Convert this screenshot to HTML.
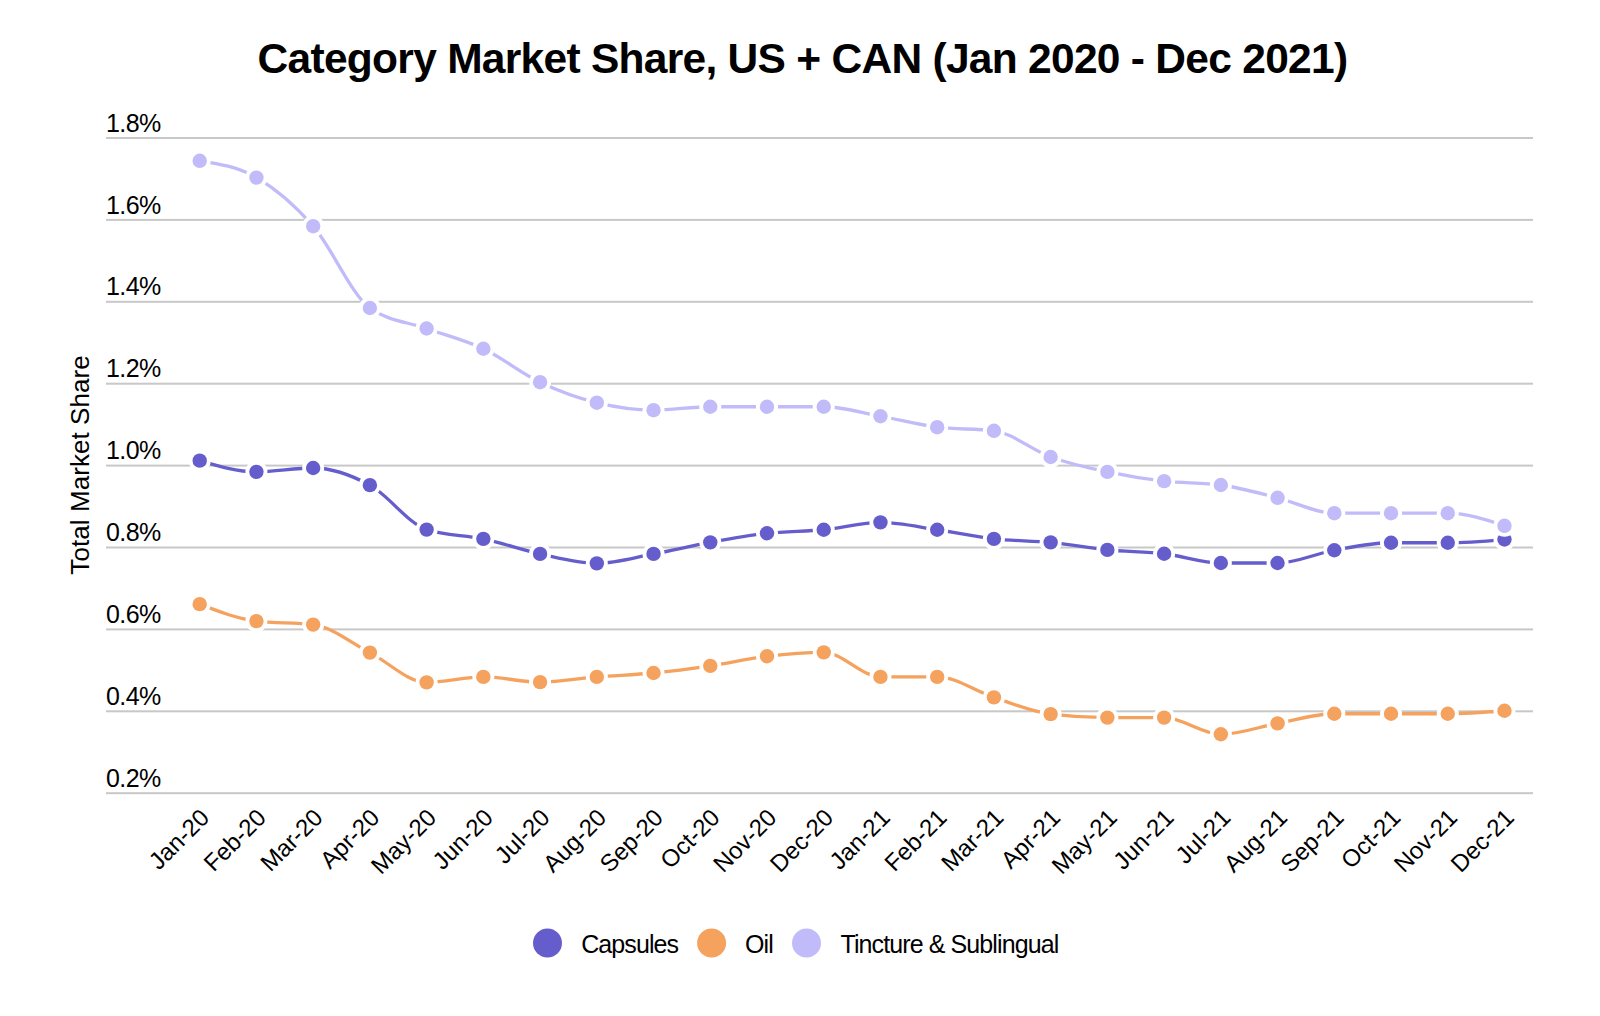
<!DOCTYPE html>
<html><head><meta charset="utf-8"><title>Category Market Share</title>
<style>html,body{margin:0;padding:0;background:#fff;width:1600px;height:1016px;overflow:hidden}svg{display:block;font-family:"Liberation Sans",sans-serif}</style>
</head><body>
<svg width="1600" height="1016" viewBox="0 0 1600 1016"><rect width="1600" height="1016" fill="#fff"/><text x="802.5" y="73.2" text-anchor="middle" font-family="Liberation Sans" font-weight="bold" font-size="42.5" letter-spacing="-0.72" fill="#000">Category Market Share, US + CAN (Jan 2020 - Dec 2021)</text><rect x="106" y="137.00" width="1427" height="2" fill="#c8c8c8"/><text x="106" y="131.60" font-family="Liberation Sans" font-size="25" letter-spacing="-0.6" fill="#000">1.8%</text><rect x="106" y="218.90" width="1427" height="2" fill="#c8c8c8"/><text x="106" y="213.50" font-family="Liberation Sans" font-size="25" letter-spacing="-0.6" fill="#000">1.6%</text><rect x="106" y="300.80" width="1427" height="2" fill="#c8c8c8"/><text x="106" y="295.40" font-family="Liberation Sans" font-size="25" letter-spacing="-0.6" fill="#000">1.4%</text><rect x="106" y="382.70" width="1427" height="2" fill="#c8c8c8"/><text x="106" y="377.30" font-family="Liberation Sans" font-size="25" letter-spacing="-0.6" fill="#000">1.2%</text><rect x="106" y="464.60" width="1427" height="2" fill="#c8c8c8"/><text x="106" y="459.20" font-family="Liberation Sans" font-size="25" letter-spacing="-0.6" fill="#000">1.0%</text><rect x="106" y="546.50" width="1427" height="2" fill="#c8c8c8"/><text x="106" y="541.10" font-family="Liberation Sans" font-size="25" letter-spacing="-0.6" fill="#000">0.8%</text><rect x="106" y="628.40" width="1427" height="2" fill="#c8c8c8"/><text x="106" y="623.00" font-family="Liberation Sans" font-size="25" letter-spacing="-0.6" fill="#000">0.6%</text><rect x="106" y="710.30" width="1427" height="2" fill="#c8c8c8"/><text x="106" y="704.90" font-family="Liberation Sans" font-size="25" letter-spacing="-0.6" fill="#000">0.4%</text><rect x="106" y="792.20" width="1427" height="2" fill="#c8c8c8"/><text x="106" y="786.80" font-family="Liberation Sans" font-size="25" letter-spacing="-0.6" fill="#000">0.2%</text><text transform="translate(89.1,464.9) rotate(-90)" text-anchor="middle" font-family="Liberation Sans" font-size="26" letter-spacing="0.07" fill="#000">Total Market Share</text><text transform="translate(210.70,819) rotate(-45)" text-anchor="end" font-family="Liberation Sans" font-size="24" fill="#000">Jan-20</text><text transform="translate(267.43,819) rotate(-45)" text-anchor="end" font-family="Liberation Sans" font-size="24" fill="#000">Feb-20</text><text transform="translate(324.16,819) rotate(-45)" text-anchor="end" font-family="Liberation Sans" font-size="24" fill="#000">Mar-20</text><text transform="translate(380.89,819) rotate(-45)" text-anchor="end" font-family="Liberation Sans" font-size="24" fill="#000">Apr-20</text><text transform="translate(437.62,819) rotate(-45)" text-anchor="end" font-family="Liberation Sans" font-size="24" fill="#000">May-20</text><text transform="translate(494.35,819) rotate(-45)" text-anchor="end" font-family="Liberation Sans" font-size="24" fill="#000">Jun-20</text><text transform="translate(551.08,819) rotate(-45)" text-anchor="end" font-family="Liberation Sans" font-size="24" fill="#000">Jul-20</text><text transform="translate(607.81,819) rotate(-45)" text-anchor="end" font-family="Liberation Sans" font-size="24" fill="#000">Aug-20</text><text transform="translate(664.54,819) rotate(-45)" text-anchor="end" font-family="Liberation Sans" font-size="24" fill="#000">Sep-20</text><text transform="translate(721.27,819) rotate(-45)" text-anchor="end" font-family="Liberation Sans" font-size="24" fill="#000">Oct-20</text><text transform="translate(778.00,819) rotate(-45)" text-anchor="end" font-family="Liberation Sans" font-size="24" fill="#000">Nov-20</text><text transform="translate(834.73,819) rotate(-45)" text-anchor="end" font-family="Liberation Sans" font-size="24" fill="#000">Dec-20</text><text transform="translate(891.46,819) rotate(-45)" text-anchor="end" font-family="Liberation Sans" font-size="24" fill="#000">Jan-21</text><text transform="translate(948.19,819) rotate(-45)" text-anchor="end" font-family="Liberation Sans" font-size="24" fill="#000">Feb-21</text><text transform="translate(1004.92,819) rotate(-45)" text-anchor="end" font-family="Liberation Sans" font-size="24" fill="#000">Mar-21</text><text transform="translate(1061.65,819) rotate(-45)" text-anchor="end" font-family="Liberation Sans" font-size="24" fill="#000">Apr-21</text><text transform="translate(1118.38,819) rotate(-45)" text-anchor="end" font-family="Liberation Sans" font-size="24" fill="#000">May-21</text><text transform="translate(1175.11,819) rotate(-45)" text-anchor="end" font-family="Liberation Sans" font-size="24" fill="#000">Jun-21</text><text transform="translate(1231.84,819) rotate(-45)" text-anchor="end" font-family="Liberation Sans" font-size="24" fill="#000">Jul-21</text><text transform="translate(1288.57,819) rotate(-45)" text-anchor="end" font-family="Liberation Sans" font-size="24" fill="#000">Aug-21</text><text transform="translate(1345.30,819) rotate(-45)" text-anchor="end" font-family="Liberation Sans" font-size="24" fill="#000">Sep-21</text><text transform="translate(1402.03,819) rotate(-45)" text-anchor="end" font-family="Liberation Sans" font-size="24" fill="#000">Oct-21</text><text transform="translate(1458.76,819) rotate(-45)" text-anchor="end" font-family="Liberation Sans" font-size="24" fill="#000">Nov-21</text><text transform="translate(1515.49,819) rotate(-45)" text-anchor="end" font-family="Liberation Sans" font-size="24" fill="#000">Dec-21</text><path d="M199.70,460.65 C218.61,466.25 237.52,471.85 256.43,471.85 C275.34,471.85 294.25,468.00 313.16,468.00 C332.07,468.00 350.98,474.88 369.89,485.15 C388.80,495.42 407.71,523.43 426.62,529.60 C445.53,535.77 464.44,534.80 483.35,538.85 C502.26,542.90 521.17,549.82 540.08,553.90 C558.99,557.98 577.90,563.35 596.81,563.35 C615.72,563.35 634.63,557.40 653.54,553.90 C672.45,550.40 691.36,545.79 710.27,542.35 C729.18,538.91 748.09,535.35 767.00,533.25 C785.91,531.15 804.82,531.56 823.73,529.75 C842.64,527.94 861.55,522.40 880.46,522.40 C899.37,522.40 918.28,527.01 937.19,529.75 C956.10,532.49 975.01,536.74 993.92,538.85 C1012.83,540.96 1031.74,540.56 1050.65,542.40 C1069.56,544.24 1088.47,548.01 1107.38,549.90 C1126.29,551.79 1145.20,551.57 1164.11,553.75 C1183.02,555.93 1201.93,563.00 1220.84,563.00 C1239.75,563.00 1258.66,563.00 1277.57,563.00 C1296.48,563.00 1315.39,553.62 1334.30,550.25 C1353.21,546.88 1372.12,542.75 1391.03,542.75 C1409.94,542.75 1428.85,542.75 1447.76,542.75 C1466.67,542.75 1485.58,541.12 1504.49,539.50" fill="none" stroke="#665dcc" stroke-width="3.3" stroke-linecap="butt"/>
<circle cx="199.70" cy="460.65" r="11" fill="#fff"/><circle cx="199.70" cy="460.65" r="7.2" fill="#665dcc"/><circle cx="256.43" cy="471.85" r="11" fill="#fff"/><circle cx="256.43" cy="471.85" r="7.2" fill="#665dcc"/><circle cx="313.16" cy="468.00" r="11" fill="#fff"/><circle cx="313.16" cy="468.00" r="7.2" fill="#665dcc"/><circle cx="369.89" cy="485.15" r="11" fill="#fff"/><circle cx="369.89" cy="485.15" r="7.2" fill="#665dcc"/><circle cx="426.62" cy="529.60" r="11" fill="#fff"/><circle cx="426.62" cy="529.60" r="7.2" fill="#665dcc"/><circle cx="483.35" cy="538.85" r="11" fill="#fff"/><circle cx="483.35" cy="538.85" r="7.2" fill="#665dcc"/><circle cx="540.08" cy="553.90" r="11" fill="#fff"/><circle cx="540.08" cy="553.90" r="7.2" fill="#665dcc"/><circle cx="596.81" cy="563.35" r="11" fill="#fff"/><circle cx="596.81" cy="563.35" r="7.2" fill="#665dcc"/><circle cx="653.54" cy="553.90" r="11" fill="#fff"/><circle cx="653.54" cy="553.90" r="7.2" fill="#665dcc"/><circle cx="710.27" cy="542.35" r="11" fill="#fff"/><circle cx="710.27" cy="542.35" r="7.2" fill="#665dcc"/><circle cx="767.00" cy="533.25" r="11" fill="#fff"/><circle cx="767.00" cy="533.25" r="7.2" fill="#665dcc"/><circle cx="823.73" cy="529.75" r="11" fill="#fff"/><circle cx="823.73" cy="529.75" r="7.2" fill="#665dcc"/><circle cx="880.46" cy="522.40" r="11" fill="#fff"/><circle cx="880.46" cy="522.40" r="7.2" fill="#665dcc"/><circle cx="937.19" cy="529.75" r="11" fill="#fff"/><circle cx="937.19" cy="529.75" r="7.2" fill="#665dcc"/><circle cx="993.92" cy="538.85" r="11" fill="#fff"/><circle cx="993.92" cy="538.85" r="7.2" fill="#665dcc"/><circle cx="1050.65" cy="542.40" r="11" fill="#fff"/><circle cx="1050.65" cy="542.40" r="7.2" fill="#665dcc"/><circle cx="1107.38" cy="549.90" r="11" fill="#fff"/><circle cx="1107.38" cy="549.90" r="7.2" fill="#665dcc"/><circle cx="1164.11" cy="553.75" r="11" fill="#fff"/><circle cx="1164.11" cy="553.75" r="7.2" fill="#665dcc"/><circle cx="1220.84" cy="563.00" r="11" fill="#fff"/><circle cx="1220.84" cy="563.00" r="7.2" fill="#665dcc"/><circle cx="1277.57" cy="563.00" r="11" fill="#fff"/><circle cx="1277.57" cy="563.00" r="7.2" fill="#665dcc"/><circle cx="1334.30" cy="550.25" r="11" fill="#fff"/><circle cx="1334.30" cy="550.25" r="7.2" fill="#665dcc"/><circle cx="1391.03" cy="542.75" r="11" fill="#fff"/><circle cx="1391.03" cy="542.75" r="7.2" fill="#665dcc"/><circle cx="1447.76" cy="542.75" r="11" fill="#fff"/><circle cx="1447.76" cy="542.75" r="7.2" fill="#665dcc"/><circle cx="1504.49" cy="539.50" r="11" fill="#fff"/><circle cx="1504.49" cy="539.50" r="7.2" fill="#665dcc"/>
<path d="M199.70,604.15 C218.61,611.46 237.52,618.77 256.43,621.10 C275.34,623.43 294.25,622.27 313.16,624.60 C332.07,626.93 350.98,642.97 369.89,652.60 C388.80,662.23 407.71,682.40 426.62,682.40 C445.53,682.40 464.44,676.90 483.35,676.90 C502.26,676.90 521.17,682.10 540.08,682.10 C558.99,682.10 577.90,678.42 596.81,676.90 C615.72,675.38 634.63,674.84 653.54,673.00 C672.45,671.16 691.36,668.64 710.27,665.85 C729.18,663.06 748.09,658.49 767.00,656.25 C785.91,654.01 804.82,652.40 823.73,652.40 C842.64,652.40 861.55,676.90 880.46,676.90 C899.37,676.90 918.28,676.90 937.19,676.90 C956.10,676.90 975.01,691.20 993.92,697.40 C1012.83,703.60 1031.74,711.77 1050.65,714.10 C1069.56,716.43 1088.47,717.60 1107.38,717.60 C1126.29,717.60 1145.20,717.60 1164.11,717.60 C1183.02,717.60 1201.93,734.25 1220.84,734.25 C1239.75,734.25 1258.66,726.82 1277.57,723.40 C1296.48,719.98 1315.39,713.75 1334.30,713.75 C1353.21,713.75 1372.12,713.75 1391.03,713.75 C1409.94,713.75 1428.85,713.75 1447.76,713.75 C1466.67,713.75 1485.58,712.25 1504.49,710.75" fill="none" stroke="#f4a25e" stroke-width="3.3" stroke-linecap="butt"/>
<circle cx="199.70" cy="604.15" r="11" fill="#fff"/><circle cx="199.70" cy="604.15" r="7.2" fill="#f4a25e"/><circle cx="256.43" cy="621.10" r="11" fill="#fff"/><circle cx="256.43" cy="621.10" r="7.2" fill="#f4a25e"/><circle cx="313.16" cy="624.60" r="11" fill="#fff"/><circle cx="313.16" cy="624.60" r="7.2" fill="#f4a25e"/><circle cx="369.89" cy="652.60" r="11" fill="#fff"/><circle cx="369.89" cy="652.60" r="7.2" fill="#f4a25e"/><circle cx="426.62" cy="682.40" r="11" fill="#fff"/><circle cx="426.62" cy="682.40" r="7.2" fill="#f4a25e"/><circle cx="483.35" cy="676.90" r="11" fill="#fff"/><circle cx="483.35" cy="676.90" r="7.2" fill="#f4a25e"/><circle cx="540.08" cy="682.10" r="11" fill="#fff"/><circle cx="540.08" cy="682.10" r="7.2" fill="#f4a25e"/><circle cx="596.81" cy="676.90" r="11" fill="#fff"/><circle cx="596.81" cy="676.90" r="7.2" fill="#f4a25e"/><circle cx="653.54" cy="673.00" r="11" fill="#fff"/><circle cx="653.54" cy="673.00" r="7.2" fill="#f4a25e"/><circle cx="710.27" cy="665.85" r="11" fill="#fff"/><circle cx="710.27" cy="665.85" r="7.2" fill="#f4a25e"/><circle cx="767.00" cy="656.25" r="11" fill="#fff"/><circle cx="767.00" cy="656.25" r="7.2" fill="#f4a25e"/><circle cx="823.73" cy="652.40" r="11" fill="#fff"/><circle cx="823.73" cy="652.40" r="7.2" fill="#f4a25e"/><circle cx="880.46" cy="676.90" r="11" fill="#fff"/><circle cx="880.46" cy="676.90" r="7.2" fill="#f4a25e"/><circle cx="937.19" cy="676.90" r="11" fill="#fff"/><circle cx="937.19" cy="676.90" r="7.2" fill="#f4a25e"/><circle cx="993.92" cy="697.40" r="11" fill="#fff"/><circle cx="993.92" cy="697.40" r="7.2" fill="#f4a25e"/><circle cx="1050.65" cy="714.10" r="11" fill="#fff"/><circle cx="1050.65" cy="714.10" r="7.2" fill="#f4a25e"/><circle cx="1107.38" cy="717.60" r="11" fill="#fff"/><circle cx="1107.38" cy="717.60" r="7.2" fill="#f4a25e"/><circle cx="1164.11" cy="717.60" r="11" fill="#fff"/><circle cx="1164.11" cy="717.60" r="7.2" fill="#f4a25e"/><circle cx="1220.84" cy="734.25" r="11" fill="#fff"/><circle cx="1220.84" cy="734.25" r="7.2" fill="#f4a25e"/><circle cx="1277.57" cy="723.40" r="11" fill="#fff"/><circle cx="1277.57" cy="723.40" r="7.2" fill="#f4a25e"/><circle cx="1334.30" cy="713.75" r="11" fill="#fff"/><circle cx="1334.30" cy="713.75" r="7.2" fill="#f4a25e"/><circle cx="1391.03" cy="713.75" r="11" fill="#fff"/><circle cx="1391.03" cy="713.75" r="7.2" fill="#f4a25e"/><circle cx="1447.76" cy="713.75" r="11" fill="#fff"/><circle cx="1447.76" cy="713.75" r="7.2" fill="#f4a25e"/><circle cx="1504.49" cy="710.75" r="11" fill="#fff"/><circle cx="1504.49" cy="710.75" r="7.2" fill="#f4a25e"/>
<path d="M199.70,160.80 C218.61,163.75 237.52,166.70 256.43,177.60 C275.34,188.50 294.25,204.47 313.16,226.20 C332.07,247.93 350.98,294.33 369.89,308.00 C388.80,321.67 407.71,321.71 426.62,328.50 C445.53,335.29 464.44,339.80 483.35,348.75 C502.26,357.70 521.17,373.21 540.08,382.20 C558.99,391.19 577.90,398.03 596.81,402.70 C615.72,407.37 634.63,410.20 653.54,410.20 C672.45,410.20 691.36,406.75 710.27,406.75 C729.18,406.75 748.09,406.75 767.00,406.75 C785.91,406.75 804.82,406.75 823.73,406.75 C842.64,406.75 861.55,412.84 880.46,416.25 C899.37,419.66 918.28,424.80 937.19,427.20 C956.10,429.60 975.01,428.40 993.92,430.80 C1012.83,433.20 1031.74,450.15 1050.65,457.00 C1069.56,463.85 1088.47,467.88 1107.38,471.90 C1126.29,475.92 1145.20,478.97 1164.11,481.15 C1183.02,483.33 1201.93,482.43 1220.84,485.00 C1239.75,487.57 1258.66,493.10 1277.57,497.80 C1296.48,502.50 1315.39,513.20 1334.30,513.20 C1353.21,513.20 1372.12,513.20 1391.03,513.20 C1409.94,513.20 1428.85,513.20 1447.76,513.20 C1466.67,513.20 1485.58,519.50 1504.49,525.80" fill="none" stroke="#c1bcf9" stroke-width="3.3" stroke-linecap="butt"/>
<circle cx="199.70" cy="160.80" r="11" fill="#fff"/><circle cx="199.70" cy="160.80" r="7.2" fill="#c1bcf9"/><circle cx="256.43" cy="177.60" r="11" fill="#fff"/><circle cx="256.43" cy="177.60" r="7.2" fill="#c1bcf9"/><circle cx="313.16" cy="226.20" r="11" fill="#fff"/><circle cx="313.16" cy="226.20" r="7.2" fill="#c1bcf9"/><circle cx="369.89" cy="308.00" r="11" fill="#fff"/><circle cx="369.89" cy="308.00" r="7.2" fill="#c1bcf9"/><circle cx="426.62" cy="328.50" r="11" fill="#fff"/><circle cx="426.62" cy="328.50" r="7.2" fill="#c1bcf9"/><circle cx="483.35" cy="348.75" r="11" fill="#fff"/><circle cx="483.35" cy="348.75" r="7.2" fill="#c1bcf9"/><circle cx="540.08" cy="382.20" r="11" fill="#fff"/><circle cx="540.08" cy="382.20" r="7.2" fill="#c1bcf9"/><circle cx="596.81" cy="402.70" r="11" fill="#fff"/><circle cx="596.81" cy="402.70" r="7.2" fill="#c1bcf9"/><circle cx="653.54" cy="410.20" r="11" fill="#fff"/><circle cx="653.54" cy="410.20" r="7.2" fill="#c1bcf9"/><circle cx="710.27" cy="406.75" r="11" fill="#fff"/><circle cx="710.27" cy="406.75" r="7.2" fill="#c1bcf9"/><circle cx="767.00" cy="406.75" r="11" fill="#fff"/><circle cx="767.00" cy="406.75" r="7.2" fill="#c1bcf9"/><circle cx="823.73" cy="406.75" r="11" fill="#fff"/><circle cx="823.73" cy="406.75" r="7.2" fill="#c1bcf9"/><circle cx="880.46" cy="416.25" r="11" fill="#fff"/><circle cx="880.46" cy="416.25" r="7.2" fill="#c1bcf9"/><circle cx="937.19" cy="427.20" r="11" fill="#fff"/><circle cx="937.19" cy="427.20" r="7.2" fill="#c1bcf9"/><circle cx="993.92" cy="430.80" r="11" fill="#fff"/><circle cx="993.92" cy="430.80" r="7.2" fill="#c1bcf9"/><circle cx="1050.65" cy="457.00" r="11" fill="#fff"/><circle cx="1050.65" cy="457.00" r="7.2" fill="#c1bcf9"/><circle cx="1107.38" cy="471.90" r="11" fill="#fff"/><circle cx="1107.38" cy="471.90" r="7.2" fill="#c1bcf9"/><circle cx="1164.11" cy="481.15" r="11" fill="#fff"/><circle cx="1164.11" cy="481.15" r="7.2" fill="#c1bcf9"/><circle cx="1220.84" cy="485.00" r="11" fill="#fff"/><circle cx="1220.84" cy="485.00" r="7.2" fill="#c1bcf9"/><circle cx="1277.57" cy="497.80" r="11" fill="#fff"/><circle cx="1277.57" cy="497.80" r="7.2" fill="#c1bcf9"/><circle cx="1334.30" cy="513.20" r="11" fill="#fff"/><circle cx="1334.30" cy="513.20" r="7.2" fill="#c1bcf9"/><circle cx="1391.03" cy="513.20" r="11" fill="#fff"/><circle cx="1391.03" cy="513.20" r="7.2" fill="#c1bcf9"/><circle cx="1447.76" cy="513.20" r="11" fill="#fff"/><circle cx="1447.76" cy="513.20" r="7.2" fill="#c1bcf9"/><circle cx="1504.49" cy="525.80" r="11" fill="#fff"/><circle cx="1504.49" cy="525.80" r="7.2" fill="#c1bcf9"/>
<circle cx="547.5" cy="943" r="14.5" fill="#665dcc"/><text x="581.2" y="952.8" font-family="Liberation Sans" font-size="25" letter-spacing="-0.9" fill="#000">Capsules</text><circle cx="711.6" cy="943" r="14.5" fill="#f4a25e"/><text x="745.0" y="952.8" font-family="Liberation Sans" font-size="25" letter-spacing="-0.9" fill="#000">Oil</text><circle cx="806.5" cy="943" r="14.5" fill="#c1bcf9"/><text x="840.5" y="952.8" font-family="Liberation Sans" font-size="25" letter-spacing="-0.9" fill="#000">Tincture &amp; Sublingual</text></svg>
</body></html>
